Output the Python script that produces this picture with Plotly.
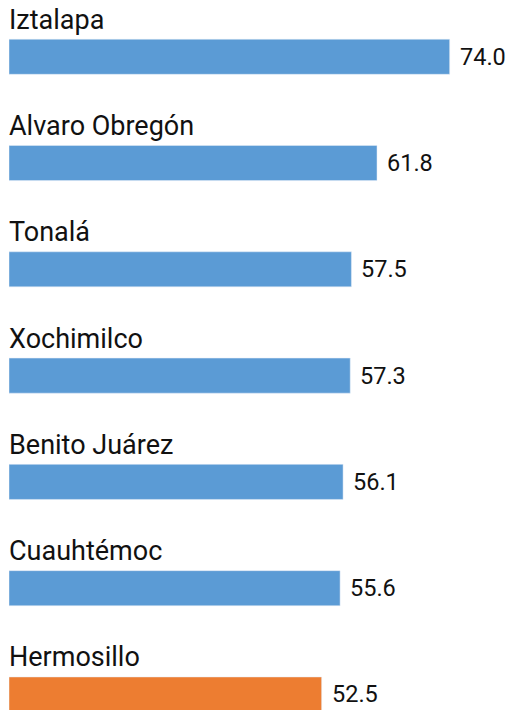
import plotly.graph_objects as go

# datos
municipios = [
    "Iztalapa",
    "Alvaro Obregón",
    "Tonalá",
    "Xochimilco",
    "Benito Juárez",
    "Cuauhtémoc",
    "Hermosillo",
]
valores = [74.0, 61.8, 57.5, 57.3, 56.1, 55.6, 52.5]
destacado = "Hermosillo"

AZUL = "#5B9BD5"
NARANJA = "#ED7D31"
colores = [NARANJA if m == destacado else AZUL for m in municipios]

fig = go.Figure(
    go.Bar(
        x=valores,
        y=municipios,
        orientation="h",
        marker_color=colores,
        width=0.33,
        hoverinfo="x+y",
    )
)

for m, v in zip(municipios, valores):
    # nombre arriba de la barra
    fig.add_annotation(
        x=0, y=m, text=m,
        xanchor="left", yanchor="middle", xshift=-2, yshift=37,
        showarrow=False, font=dict(size=27),
    )
    # valor a la derecha
    fig.add_annotation(
        x=v, y=m, text=f"{v:.1f}",
        xanchor="left", yanchor="middle", xshift=8,
        showarrow=False, font=dict(size=23.5),
    )

fig.update_xaxes(range=[0, 84.3], visible=False)
fig.update_yaxes(
    categoryorder="array",
    categoryarray=municipios,
    range=[6.146, -0.534],
    visible=False,
)
fig.update_layout(
    width=511,
    height=710,
    margin=dict(l=9, r=0, t=0, b=0),
    plot_bgcolor="white",
    paper_bgcolor="white",
    font=dict(family="Roboto", color="#111111"),
    showlegend=False,
)
# sin el margen por defecto del body la figura ocupa toda la ventana
fig.write_html(
    "out.html",
    config={"displayModeBar": False},
    post_script="document.body.style.margin = '0';",
)
